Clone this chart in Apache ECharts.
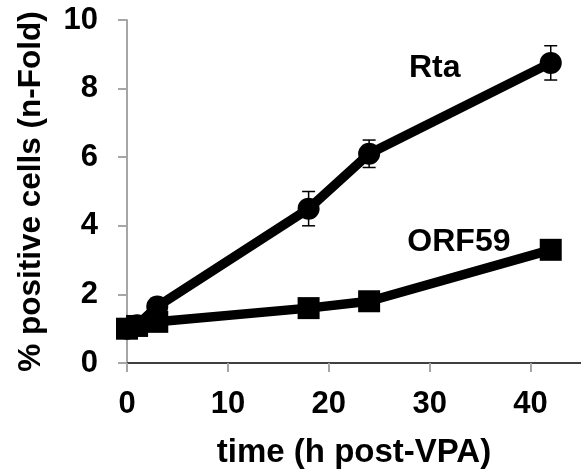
<!DOCTYPE html>
<html>
<head>
<meta charset="utf-8">
<script src="https://cdn.jsdelivr.net/npm/echarts@6/dist/echarts.min.js"></script>
<style>
  html, body { margin: 0; padding: 0; background: #fff; }
  #main { width: 581px; height: 474px; }
</style>
</head>
<body>
<div id="main"></div>
<script>
// time points (h post-VPA)
var times = [0, 1, 3, 18, 24, 42];
// n-fold values
var rtaValues = [1.0, 1.1, 1.65, 4.5, 6.1, 8.75];
var rtaErrors = [0, 0, 0, 0.5, 0.4, 0.5];
var orf59Values = [1.0, 1.08, 1.2, 1.6, 1.8, 3.3];
// series name labels placed in data space
var seriesLabels = [
  { name: 'Rta', x: 30.5, y: 8.6 },
  { name: 'ORF59', x: 32.9, y: 3.52 }
];

var FONT = '"Liberation Sans", Arial, sans-serif';
var axisGray = '#a6a6a6';

var chart = echarts.init(document.getElementById('main'));

function pairs(xs, ys) {
  return xs.map(function (x, i) { return [x, ys[i]]; });
}

var errData = times.map(function (t, i) {
  return [t, rtaValues[i] - rtaErrors[i], rtaValues[i] + rtaErrors[i]];
}).filter(function (d, i) { return rtaErrors[i] > 0; });

chart.setOption({
  backgroundColor: '#fff',
  animation: false,
  grid: {
    left: 127,
    top: 20,
    width: 462,
    bottom: 111
  },
  xAxis: [{
    type: 'value',
    min: 0,
    max: 45,
    interval: 10,
    name: 'time (h post-VPA)',
    nameLocation: 'middle',
    nameGap: 73,
    nameTextStyle: { color: '#000', fontSize: 33, fontWeight: 'bold', fontFamily: FONT },
    axisLine: { show: true, onZero: false, lineStyle: { color: axisGray, width: 2 } },
    axisTick: { show: true, length: 9, lineStyle: { color: axisGray, width: 2 } },
    axisLabel: { color: '#000', fontSize: 31, fontWeight: 'bold', fontFamily: FONT, margin: 26, showMaxLabel: false },
    splitLine: { show: false }
  }, {
    type: 'value',
    position: 'top',
    min: 0,
    max: 45,
    axisLine: { show: true, lineStyle: { color: '#404040', width: 2 } },
    axisTick: { show: false },
    axisLabel: { show: false },
    splitLine: { show: false }
  }],
  yAxis: {
    type: 'value',
    min: 0,
    max: 10,
    interval: 2,
    name: '% positive cells (n-Fold)',
    nameLocation: 'middle',
    nameGap: 80,
    nameTextStyle: { color: '#000', fontSize: 31.5, fontWeight: 'bold', fontFamily: FONT },
    axisLine: { show: true, lineStyle: { color: axisGray, width: 2 } },
    axisTick: { show: true, length: 9, lineStyle: { color: axisGray, width: 2 } },
    axisLabel: { color: '#000', fontSize: 31, fontWeight: 'bold', fontFamily: FONT, margin: 29 },
    splitLine: { show: false }
  },
  series: [
    {
      name: 'Rta err',
      type: 'custom',
      data: errData,
      z: 1,
      renderItem: function (params, api) {
        var top = api.coord([api.value(0), api.value(2)]);
        var bot = api.coord([api.value(0), api.value(1)]);
        var hw = 6.5;
        var style = { stroke: '#000', lineWidth: 1.5 };
        return {
          type: 'group',
          children: [
            { type: 'line', shape: { x1: top[0], y1: top[1], x2: bot[0], y2: bot[1] }, style: style },
            { type: 'line', shape: { x1: top[0] - hw, y1: top[1], x2: top[0] + hw, y2: top[1] }, style: style },
            { type: 'line', shape: { x1: bot[0] - hw, y1: bot[1], x2: bot[0] + hw, y2: bot[1] }, style: style }
          ]
        };
      }
    },
    {
      name: 'Rta',
      type: 'line',
      data: pairs(times, rtaValues),
      symbol: 'circle',
      symbolSize: 22,
      showAllSymbol: true,
      z: 2,
      lineStyle: { color: '#000', width: 9.5 },
      itemStyle: { color: '#000' }
    },
    {
      name: 'ORF59',
      type: 'line',
      data: pairs(times, orf59Values),
      symbol: 'rect',
      symbolSize: 22,
      showAllSymbol: true,
      z: 3,
      lineStyle: { color: '#000', width: 9.5 },
      itemStyle: { color: '#000' }
    },
    {
      name: 'labels',
      type: 'scatter',
      xAxisIndex: 0,
      symbolSize: 0,
      z: 4,
      itemStyle: { opacity: 1 },
      data: seriesLabels.map(function (d) { return { name: d.name, value: [d.x, d.y] }; }),
      label: {
        show: true,
        position: 'inside',
        formatter: '{b}',
        color: '#000',
        opacity: 1,
        fontSize: 32,
        fontWeight: 'bold',
        fontFamily: FONT
      }
    }
  ]
});
</script>
</body>
</html>
